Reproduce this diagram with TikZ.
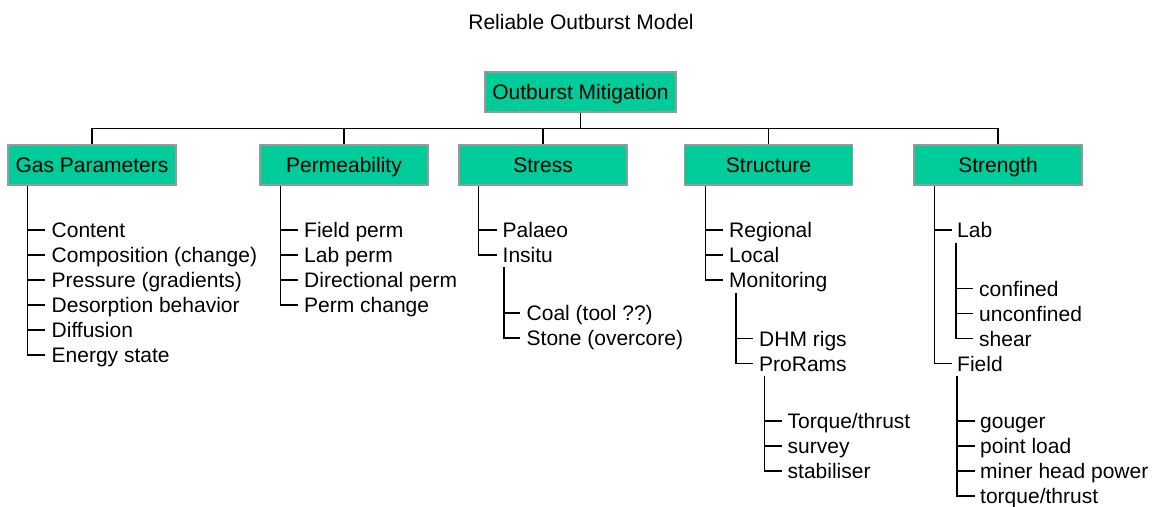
\documentclass[tikz,border=0pt]{standalone}
\usepackage{fontspec}
\setmainfont{Liberation Sans}
\definecolor{boxgreen}{HTML}{00CC99}
\definecolor{boxedge}{HTML}{999999}
\begin{document}
\begin{tikzpicture}[x=1pt,y=-1pt,
  font=\fontsize{21}{25}\selectfont,
  box/.style={draw=boxedge, line width=1.5pt, fill=boxgreen, minimum width=168pt, minimum height=40pt, inner sep=0pt, text height=15pt, text depth=0pt},
  item/.style={anchor=west, inner sep=0pt, text height=15pt, text depth=0pt},
  link/.style={draw=black, line width=1.1pt}]
\useasboundingbox (0,0) rectangle (1155,506);
\node[inner sep=0pt, text height=15pt, text depth=0pt] (title) at (581,22) {Reliable Outburst Model};
\node[box, minimum width=191pt] (mit) at (580.5,92) {Outburst Mitigation};
\node[box] (gas) at (92,165) {Gas Parameters};
\node[box] (perm) at (344,165) {Permeability};
\node[box] (stress) at (543,165) {Stress};
\node[box] (struct) at (768.5,165) {Structure};
\node[box] (strength) at (998,165) {Strength};
\coordinate (bar) at (0,128.5);
\draw[link] (gas.north) -- (gas.north |- bar) -- (strength.north |- bar) -- (strength.north);
\foreach \b in {mit.south,perm.north,stress.north,struct.north}
  \draw[link] (\b) -- (\b |- bar);
% Gas parameters
\node[item] (g1) at (51.5,230) {Content};
\node[item] (g2) at (51.5,255) {Composition (change)};
\node[item] (g3) at (51.5,280) {Pressure (gradients)};
\node[item] (g4) at (51.5,305) {Desorption behavior};
\node[item] (g5) at (51.5,330) {Diffusion};
\node[item] (g6) at (51.5,355) {Energy state};
\foreach \i in {g1,g2,g3,g4,g5,g6}
  \draw[link] ([xshift=20.5pt]gas.south west) |- ([xshift=-6.5pt]\i.west);
% Permeability
\node[item] (p1) at (304,230) {Field perm};
\node[item] (p2) at (304,255) {Lab perm};
\node[item] (p3) at (304,280) {Directional perm};
\node[item] (p4) at (304,305) {Perm change};
\foreach \i in {p1,p2,p3,p4}
  \draw[link] ([xshift=21pt]perm.south west) |- ([xshift=-6pt]\i.west);
% Stress
\node[item] (s1) at (502.5,230) {Palaeo};
\node[item] (s2) at (502.5,255) {Insitu};
\foreach \i in {s1,s2}
  \draw[link] ([xshift=20.5pt]stress.south west) |- ([xshift=-5.5pt]\i.west);
\node[item] (s21) at (526.5,313) {Coal (tool ??)};
\node[item] (s22) at (526.5,338) {Stone (overcore)};
\foreach \i in {s21,s22}
  \draw[link] ([xshift=1.5pt,yshift=-12pt]s2.west) |- ([xshift=-6.5pt]\i.west);
% Structure
\node[item] (t1) at (729,230) {Regional};
\node[item] (t2) at (729,255) {Local};
\node[item] (t3) at (729,280) {Monitoring};
\foreach \i in {t1,t2,t3}
  \draw[link] ([xshift=21.5pt]struct.south west) |- ([xshift=-6pt]\i.west);
\node[item] (t31) at (759,338.5) {DHM rigs};
\node[item] (t32) at (759,363.5) {ProRams};
\foreach \i in {t31,t32}
  \draw[link] ([xshift=7pt,yshift=-12.5pt]t3.west) |- ([xshift=-6pt]\i.west);
\node[item] (t321) at (787.5,421) {Torque/thrust};
\node[item] (t322) at (787.5,446) {survey};
\node[item] (t323) at (787.5,471) {stabiliser};
\foreach \i in {t321,t322,t323}
  \draw[link] ([xshift=5.5pt,yshift=-12.5pt]t32.west) |- ([xshift=-6pt]\i.west);
% Strength
\node[item] (r1) at (957,230) {Lab};
\node[item] (r2) at (957,363.5) {Field};
\foreach \i in {r1,r2}
  \draw[link] ([xshift=21pt]strength.south west) |- ([xshift=-5.5pt]\i.west);
\node[item] (r11) at (979,288.5) {confined};
\node[item] (r12) at (979,313.5) {unconfined};
\node[item] (r13) at (979,338.5) {shear};
\foreach \i in {r11,r12,r13}
  \draw[link] ([xshift=-1pt,yshift=-12.5pt]r1.west) |- ([xshift=-6pt]\i.west);
\node[item] (r21) at (980,421) {gouger};
\node[item] (r22) at (980,446) {point load};
\node[item] (r23) at (980,471) {miner head power};
\node[item] (r24) at (980,496) {torque/thrust};
\foreach \i in {r21,r22,r23,r24}
  \draw[link] ([xshift=0pt,yshift=-12.5pt]r2.west) |- ([xshift=-5pt]\i.west);
\end{tikzpicture}
\end{document}
